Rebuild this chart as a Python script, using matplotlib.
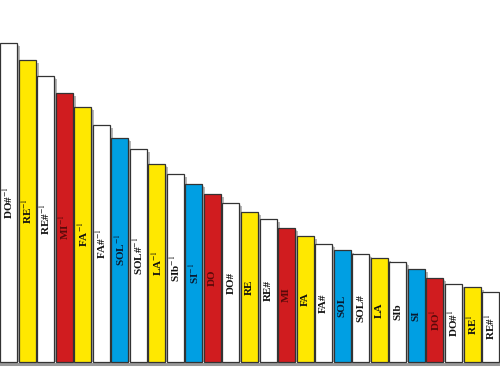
import matplotlib.pyplot as plt

# note names and relative bar heights
notes = ['DO#$^{-1}$', 'RE$^{-1}$', 'RE#$^{-1}$', 'MI$^{-1}$', 'FA$^{-1}$', 'FA#$^{-1}$',
         'SOL$^{-1}$', 'SOL#$^{-1}$', 'LA$^{-1}$', 'SIb$^{-1}$', 'SI$^{-1}$',
         'DO', 'DO#', 'RE', 'RE#', 'MI', 'FA', 'FA#', 'SOL', 'SOL#', 'LA', 'SIb', 'SI',
         'DO$^{1}$', 'DO#$^{1}$', 'RE$^{1}$', 'RE#$^{1}$']
heights = [319, 302, 286, 269, 255, 237, 224, 213, 198, 188, 178, 168, 159, 150,
           143, 134, 126, 118, 112, 108, 104, 100, 93, 84, 78, 75, 70]
kinds = ['w', 'y', 'w', 'r', 'y', 'w', 'b', 'w', 'y', 'w', 'b',
         'r', 'w', 'y', 'w', 'r', 'y', 'w', 'b', 'w', 'y', 'w', 'b',
         'r', 'w', 'y', 'w']

palette = {'w': '#ffffff', 'y': '#ffe800', 'r': '#d01c1f', 'b': '#009fe3'}
txtcol = {'w': '#111111', 'y': '#111111', 'r': '#5a0a0a', 'b': '#0a1a30'}

plt.rcParams['mathtext.fontset'] = 'stix'

fig = plt.figure(figsize=(5, 3.83), dpi=100)
ax = fig.add_axes([0, 0, 1, 1])

pitch = 18.54
x = list(range(len(heights)))
w = 17 / pitch
px = 1 / pitch  # one pixel in x data units

# soft shadows, offset right and down
ax.bar([i + 3 * px for i in x], [h - 3 for h in heights], width=w,
       color='#7a7a7a', alpha=0.55, zorder=1, linewidth=0)
ax.bar([i + 1.5 * px for i in x], [h - 1.5 for h in heights], width=w,
       color='#9a9a9a', alpha=0.4, zorder=1, linewidth=0)

ax.bar(x, heights, width=w, color=[palette[k] for k in kinds],
       edgecolor='#333333', linewidth=0.9, zorder=2)

for i, (n, h, k) in enumerate(zip(notes, heights, kinds)):
    ax.text(i, h / 2, n, rotation=90, ha='center', va='center', fontsize=8,
            fontweight='bold', family=['Liberation Serif', 'DejaVu Serif'],
            color=txtcol[k], zorder=3)

ax.axhline(-2, color='#999999', linewidth=2.2, zorder=0)

ax.set_xlim(-8.5 / pitch, (500 - 8.5) / pitch)
ax.set_ylim(-21, 362)
ax.axis('off')

fig.savefig('out.png', dpi=100)
